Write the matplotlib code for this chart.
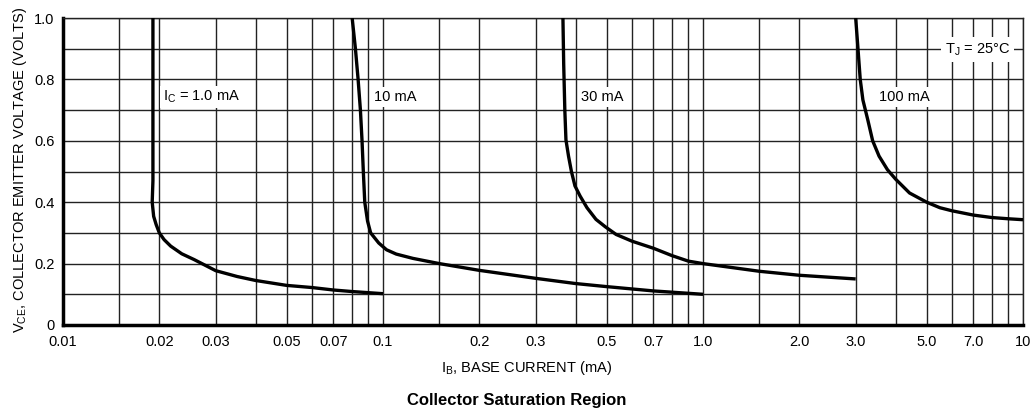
import matplotlib
matplotlib.use("Agg")
import matplotlib.pyplot as plt
from matplotlib.ticker import FixedLocator, NullFormatter

plt.rcParams['font.family'] = ['Liberation Sans', 'DejaVu Sans']
plt.rcParams['mathtext.fontset'] = 'custom'
plt.rcParams['mathtext.rm'] = 'Liberation Sans'

# ---- data ----
ib_1ma = [0.0191, 0.0191, 0.0191, 0.0190, 0.0192, 0.01955, 0.0200, 0.0207, 0.0217, 0.0235, 0.0257,
          0.030, 0.035, 0.040, 0.050, 0.060, 0.070, 0.080, 0.100]
vce_1ma = [1.00, 0.70, 0.47, 0.40, 0.354, 0.327, 0.300, 0.278, 0.257, 0.232, 0.213,
           0.177, 0.158, 0.145, 0.129, 0.122, 0.114, 0.109, 0.102]

ib_10ma = [0.0801, 0.082, 0.0836, 0.085, 0.086, 0.0868, 0.0877, 0.0895, 0.0915, 0.097, 0.1026,
           0.110, 0.124, 0.150, 0.200, 0.300, 0.400, 0.500, 0.700, 1.000]
vce_10ma = [1.00, 0.90, 0.80, 0.70, 0.60, 0.50, 0.40, 0.338, 0.300, 0.267, 0.245,
            0.231, 0.217, 0.200, 0.178, 0.152, 0.135, 0.125, 0.111, 0.100]

ib_30ma = [0.365, 0.367, 0.370, 0.373, 0.380, 0.388, 0.398, 0.413, 0.434, 0.463, 0.495, 0.535,
           0.600, 0.700, 0.800, 0.900, 1.000, 1.500, 2.000, 3.000]
vce_30ma = [1.00, 0.85, 0.70, 0.603, 0.55, 0.50, 0.453, 0.42, 0.382, 0.344, 0.32, 0.295,
            0.273, 0.250, 0.226, 0.208, 0.200, 0.175, 0.162, 0.150]

ib_100ma = [3.00, 3.05, 3.10, 3.16, 3.27, 3.39, 3.55, 3.77, 4.00, 4.42, 5.00, 5.50, 6.00,
            7.00, 8.00, 9.00, 10.0]
vce_100ma = [1.00, 0.90, 0.80, 0.733, 0.67, 0.60, 0.55, 0.506, 0.475, 0.43, 0.40, 0.382, 0.372,
             0.358, 0.350, 0.346, 0.343]

x_major = [0.01, 0.02, 0.03, 0.05, 0.07, 0.1, 0.2, 0.3, 0.5, 0.7, 1.0, 2.0, 3.0, 5.0, 7.0, 10]
x_major_labels = ['0.01', '0.02', '0.03', '0.05', '0.07', '0.1', '0.2', '0.3', '0.5', '0.7',
                  '1.0', '2.0', '3.0', '5.0', '7.0', '10']
x_minor = [0.015, 0.04, 0.06, 0.08, 0.09, 0.15, 0.4, 0.6, 0.8, 0.9, 1.5, 4.0, 6.0, 8.0, 9.0]
y_major = [0, 0.2, 0.4, 0.6, 0.8, 1.0]
y_major_labels = ['0', '0.2', '0.4', '0.6', '0.8', '1.0']
y_minor = [0.1, 0.3, 0.5, 0.7, 0.9]

curve_labels = [r'$\mathregular{I_C}$ = 1.0 mA', '10 mA', '30 mA', '100 mA']
curve_label_x = [0.0205, 0.0935, 0.415, 3.55]
curve_label_y = [0.743, 0.743, 0.743, 0.743]

# ---- figure ----
fig = plt.figure(figsize=(10.36, 4.12), dpi=100)
ax = fig.add_axes([63 / 1036, 1 - 325 / 412, 960 / 1036, 307 / 412])
ax.set_xscale('log')
ax.set_xlim(0.01, 10)
ax.set_ylim(0, 1.0)

ax.xaxis.set_major_locator(FixedLocator(x_major))
ax.set_xticklabels(x_major_labels)
ax.xaxis.set_minor_locator(FixedLocator(x_minor))
ax.xaxis.set_minor_formatter(NullFormatter())
ax.set_yticks(y_major)
ax.set_yticklabels(y_major_labels)
ax.set_yticks(y_minor, minor=True)

ax.tick_params(which='both', length=0, labelsize=10.5, colors='black')
ax.tick_params(axis='x', pad=7)
ax.tick_params(axis='y', pad=6)
ax.grid(which='both', color='#222222', linewidth=1.0, zorder=0)
ax.set_axisbelow(True)

for s in ['top', 'right']:
    ax.spines[s].set_linewidth(1.0)
    ax.spines[s].set_color('#222222')
for s in ['left', 'bottom']:
    ax.spines[s].set_linewidth(2.5)
    ax.spines[s].set_color('black')

for xs, ys in [(ib_1ma, vce_1ma), (ib_10ma, vce_10ma), (ib_30ma, vce_30ma), (ib_100ma, vce_100ma)]:
    ax.plot(xs, ys, color='black', linewidth=2.4, solid_capstyle='butt',
            solid_joinstyle='round', zorder=4)

for t, tx, ty in zip(curve_labels, curve_label_x, curve_label_y):
    ax.text(tx, ty, t, fontsize=10.5, ha='left', va='center', zorder=3,
            bbox=dict(facecolor='white', edgecolor='none', pad=2))

ax.text(5.7, 0.896, r'$\mathregular{T_J}$ = 25°C', fontsize=10.5, ha='left', va='center', zorder=3,
        bbox=dict(facecolor='white', edgecolor='none', pad=3))

fig.text(20 / 1036, 1 - 170 / 412, r'$\mathregular{V_{CE}}$, COLLECTOR EMITTER VOLTAGE (VOLTS)',
         rotation=90, ha='center', va='center', fontsize=10.5)
fig.text(526 / 1036, 1 - 368 / 412, r'$\mathregular{I_B}$, BASE CURRENT (mA)',
         ha='center', va='center', fontsize=10.5)
fig.text(517 / 1036, 1 - 401 / 412, 'Collector Saturation Region',
         ha='center', va='center', fontsize=12, fontweight='bold')

fig.savefig('out.png', dpi=100, facecolor='white')
